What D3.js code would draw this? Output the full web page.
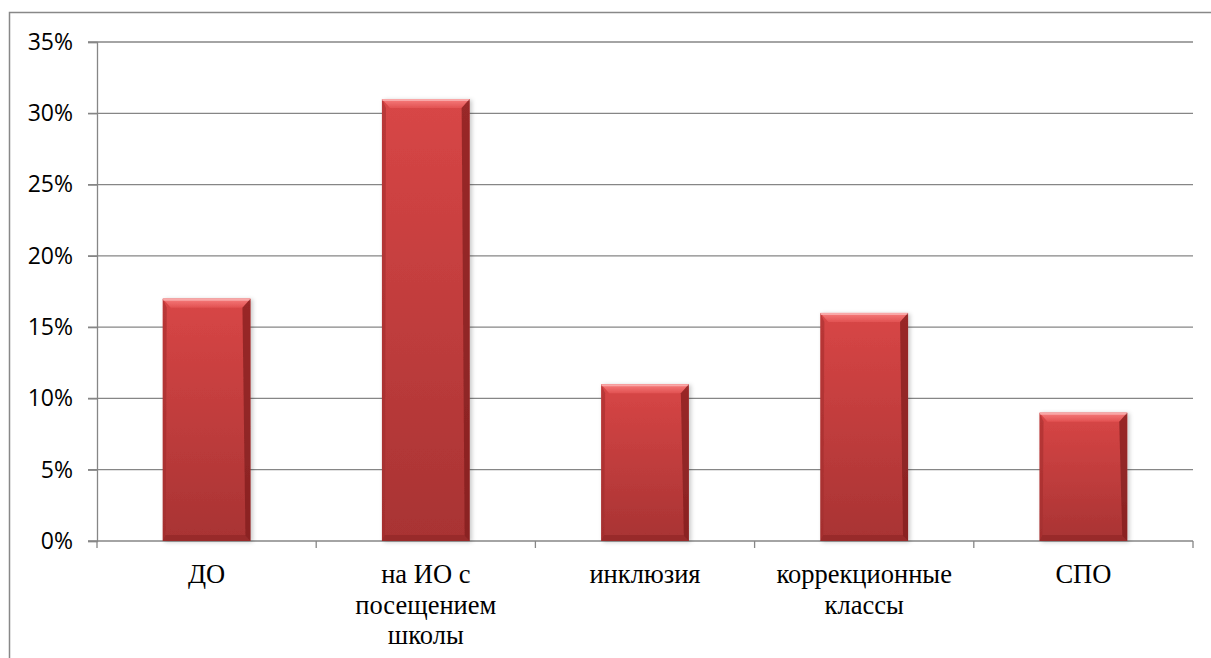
<!DOCTYPE html>
<html><head><meta charset="utf-8">
<script src="https://cdn.jsdelivr.net/npm/d3@7"></script>
<style>html,body{margin:0;padding:0;background:#fff;overflow:hidden}</style>
</head><body>
<svg id="chart" width="1211" height="658"></svg>
<script>
const categories = [["ДО"], ["на ИО с", "посещением", "школы"], ["инклюзия"], ["коррекционные", "классы"], ["СПО"]];
const values = [0.17, 0.31, 0.11, 0.16, 0.09];
const yTicks = [0, 0.05, 0.10, 0.15, 0.20, 0.25, 0.30, 0.35];

(function() {
const svg = d3.select("#chart");
const pLeft = 97, pRight = 1193, pTop = 42, pBottom = 541;
const keys = categories.map((c, i) => i);

const x = d3.scaleBand().domain(keys).range([pLeft, pRight]).paddingInner(0.6).paddingOuter(0.3);
const xCat = d3.scaleBand().domain(keys).range([pLeft, pRight]).padding(0);
const y = d3.scaleLinear().domain([0, 0.35]).range([pBottom, pTop]);

svg.append("rect").attr("x", 9.5).attr("y", 12.5).attr("width", 1300).attr("height", 800)
  .attr("fill", "none").attr("stroke", "#888").attr("stroke-width", 1.5);

const defs = svg.append("defs");
const g1 = defs.append("linearGradient").attr("id", "body").attr("x1", 0).attr("y1", 0).attr("x2", 0).attr("y2", 1);
g1.append("stop").attr("offset", "0%").attr("stop-color", "#d84646");
g1.append("stop").attr("offset", "100%").attr("stop-color", "#a83333");
const g2 = defs.append("linearGradient").attr("id", "topb").attr("x1", 0).attr("y1", 0).attr("x2", 0).attr("y2", 1);
g2.append("stop").attr("offset", "0%").attr("stop-color", "#f77e7e");
g2.append("stop").attr("offset", "100%").attr("stop-color", "#e25252");
const f = defs.append("filter").attr("id", "sh").attr("x", "-10%").attr("y", "-10%").attr("width", "130%").attr("height", "130%");
f.append("feDropShadow").attr("dx", 2).attr("dy", 1).attr("stdDeviation", 2).attr("flood-color", "#000").attr("flood-opacity", 0.22);

svg.append("g").selectAll("line").data(yTicks).join("line")
  .attr("x1", pLeft - 9).attr("x2", pRight).attr("y1", d => y(d)).attr("y2", d => y(d))
  .attr("stroke", "#868686").attr("stroke-width", 1.3);

const yAxis = d3.axisLeft(y).tickValues(yTicks).tickFormat(d3.format(".0%")).tickSize(9).tickPadding(15);
const ya = svg.append("g").attr("transform", `translate(${pLeft},0)`).call(yAxis);
ya.attr("font-family", null).attr("font-size", null);
ya.select(".domain").attr("stroke", "#868686").attr("stroke-width", 1.3);
ya.selectAll(".tick line").attr("stroke", "#868686").attr("stroke-width", 1.3);
ya.selectAll("text").style("font-family", "'Open Sans', 'Noto Sans', sans-serif").style("font-size", "23px").attr("fill", "#000");

const xt = keys.map(k => xCat(k)).concat([xCat(keys[keys.length-1]) + xCat.bandwidth()]);
svg.append("g").selectAll("line").data(xt).join("line")
  .attr("x1", d => d).attr("x2", d => d).attr("y1", pBottom).attr("y2", pBottom + 7)
  .attr("stroke", "#868686").attr("stroke-width", 1.3);

const bars = svg.append("g").selectAll("g").data(values).join("g").attr("filter", "url(#sh)");
bars.each(function(v, i) {
  const g = d3.select(this);
  const x0 = x(i), w = x.bandwidth(), y0 = y(v), h = y(0) - y(v);
  const bx = 8, by = 9;
  g.append("rect").attr("x", x0).attr("y", y0).attr("width", w).attr("height", h).attr("fill", "url(#body)");
  g.append("polygon").attr("points", [[x0, y0], [x0 + w, y0], [x0 + w - bx, y0 + by], [x0 + bx, y0 + by]].join(" "))
    .attr("fill", "url(#topb)");
  g.append("line").attr("x1", x0).attr("x2", x0 + w).attr("y1", y0 + 1).attr("y2", y0 + 1).attr("stroke", "#f9a8a8").attr("stroke-width", 2);
  g.append("polygon").attr("points", [[x0 + w, y0], [x0 + w, y0 + h], [x0 + w - 5, y0 + h - 5], [x0 + w - bx, y0 + by]].join(" "))
    .attr("fill", "#7e1c1c").attr("opacity", 0.7);
  g.append("polygon").attr("points", [[x0, y0], [x0 + bx * 0.5, y0 + by], [x0 + 3, y0 + h - 5], [x0, y0 + h]].join(" "))
    .attr("fill", "#a02c2c").attr("opacity", 0.55);
  g.append("polygon").attr("points", [[x0, y0 + h], [x0 + w, y0 + h], [x0 + w - 5, y0 + h - 6], [x0 + 3, y0 + h - 6]].join(" "))
    .attr("fill", "#8a2626").attr("opacity", 0.55);
});

const lab = svg.append("g").selectAll("text").data(categories).join("text")
  .style("font-family", "'Liberation Serif', 'Times New Roman', serif").style("font-size", "26.5px")
  .attr("fill", "#000").attr("text-anchor", "middle")
  .attr("x", (d, i) => xCat(i) + xCat.bandwidth() / 2).attr("y", 583);
lab.selectAll("tspan").data(d => d).join("tspan")
  .attr("x", function() { return d3.select(this.parentNode).attr("x"); })
  .attr("dy", (d, j) => j === 0 ? 0 : 30.5).text(d => d);
})();
</script>
</body></html>
